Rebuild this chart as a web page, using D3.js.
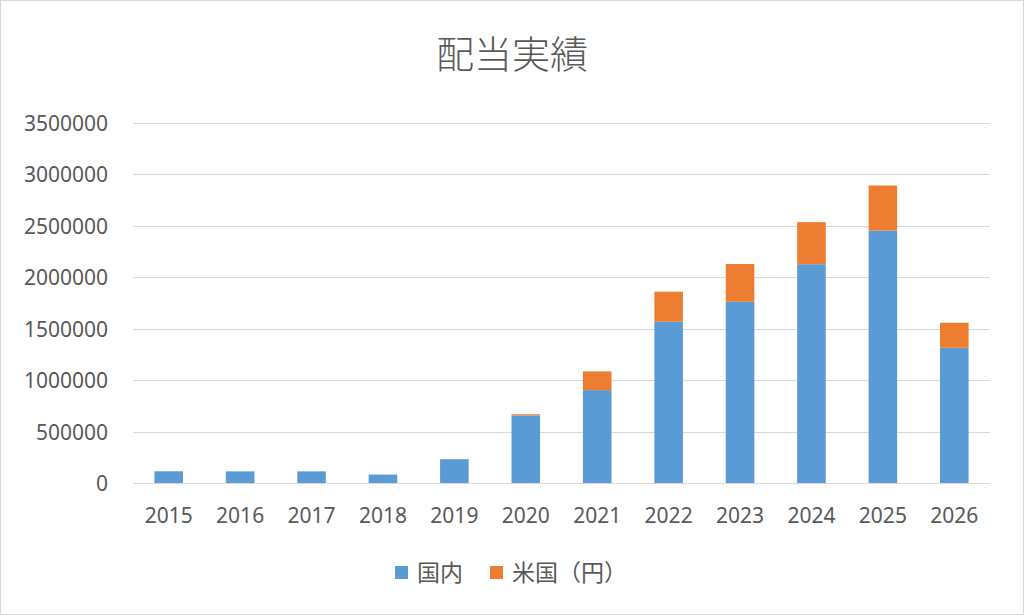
<!DOCTYPE html>
<html>
<head>
<meta charset="utf-8">
<script src="https://cdn.jsdelivr.net/npm/d3@7"></script>
<style>
  body { margin: 0; background: #fff; }
  svg text { fill: #595959; font-family: "Noto Sans", "Noto Sans CJK JP", sans-serif; }
</style>
</head>
<body>
<div id="chart"></div>
<script>
// Chart data
const years = ["2015", "2016", "2017", "2018", "2019", "2020", "2021", "2022", "2023", "2024", "2025", "2026"];
const domestic = [114000, 113000, 113000, 82000, 231000, 656000, 903000, 1568000, 1762000, 2127000, 2454000, 1315000];
const us = [0, 0, 0, 0, 0, 12000, 182000, 292000, 367000, 409000, 438000, 243000];
const seriesNames = ["国内", "米国（円）"];
const colors = ["#5B9BD5", "#ED7D31"];
const yTicks = [0, 500000, 1000000, 1500000, 2000000, 2500000, 3000000, 3500000];

const W = 1024, H = 615;
const margin = {top: 123, right: 34, bottom: 132, left: 133};
const width = W - margin.left - margin.right;
const height = H - margin.top - margin.bottom;

const svg = d3.select("#chart").append("svg")
    .attr("width", W)
    .attr("height", H);

// Outer chart border
svg.append("rect")
    .attr("x", 0.5).attr("y", 0.5)
    .attr("width", W - 1).attr("height", H - 1)
    .attr("fill", "#fff")
    .attr("stroke", "#d9d9d9");

const g = svg.append("g")
    .attr("transform", `translate(${margin.left},${margin.top})`);

// Build stacked data
const rows = years.map((y, i) => ({year: y, domestic: domestic[i], us: us[i]}));
const stack = d3.stack().keys(["domestic", "us"])(rows);

const x = d3.scaleBand()
    .domain(years)
    .range([0, width])
    .paddingInner(0.6)
    .paddingOuter(0.3);

const y = d3.scaleLinear()
    .domain([0, 3500000])
    .range([height, 0]);

// Gridlines
g.append("g")
    .selectAll("line")
    .data(yTicks)
    .enter().append("line")
    .attr("x1", 0)
    .attr("x2", width)
    .attr("y1", d => Math.round(y(d)) + 0.5)
    .attr("y2", d => Math.round(y(d)) + 0.5)
    .attr("stroke", "#d9d9d9")
    .attr("stroke-width", 1);

// Y axis labels
const yAxis = g.append("g")
    .call(d3.axisLeft(y).tickValues(yTicks).tickSize(0).tickPadding(25).tickFormat(d3.format("d")));
yAxis.select(".domain").remove();
yAxis.selectAll("text")
    .style("font-size", "21px")
    .attr("dy", "0.36em");

// Bars
g.selectAll(".series")
    .data(stack)
    .enter().append("g")
    .attr("class", "series")
    .attr("fill", (d, i) => colors[i])
    .selectAll("rect")
    .data(d => d)
    .enter().append("rect")
    .attr("x", d => x(d.data.year))
    .attr("y", d => y(d[1]))
    .attr("width", x.bandwidth())
    .attr("height", d => y(d[0]) - y(d[1]));

// X axis
const xAxis = g.append("g")
    .attr("transform", `translate(0,${height})`)
    .call(d3.axisBottom(x).tickSize(0).tickPadding(25));
xAxis.select(".domain").remove();
xAxis.selectAll("text")
    .style("font-size", "21px");

// Title
svg.append("text")
    .attr("x", W / 2)
    .attr("y", 68)
    .attr("text-anchor", "middle")
    .style("font-family", "'Noto Sans CJK JP', sans-serif")
    .style("font-weight", 300)
    .style("font-size", "38px")
    .text("配当実績");

// Legend
const legendX = [395, 490];
const legend = svg.append("g");
seriesNames.forEach((name, i) => {
    legend.append("rect")
        .attr("x", legendX[i])
        .attr("y", 566)
        .attr("width", 13)
        .attr("height", 13)
        .attr("fill", colors[i]);
    legend.append("text")
        .attr("x", legendX[i] + 22)
        .attr("y", 581)
        .style("font-family", "'Noto Sans CJK JP', sans-serif")
        .style("font-size", "23px")
        .text(name);
});
</script>
</body>
</html>
